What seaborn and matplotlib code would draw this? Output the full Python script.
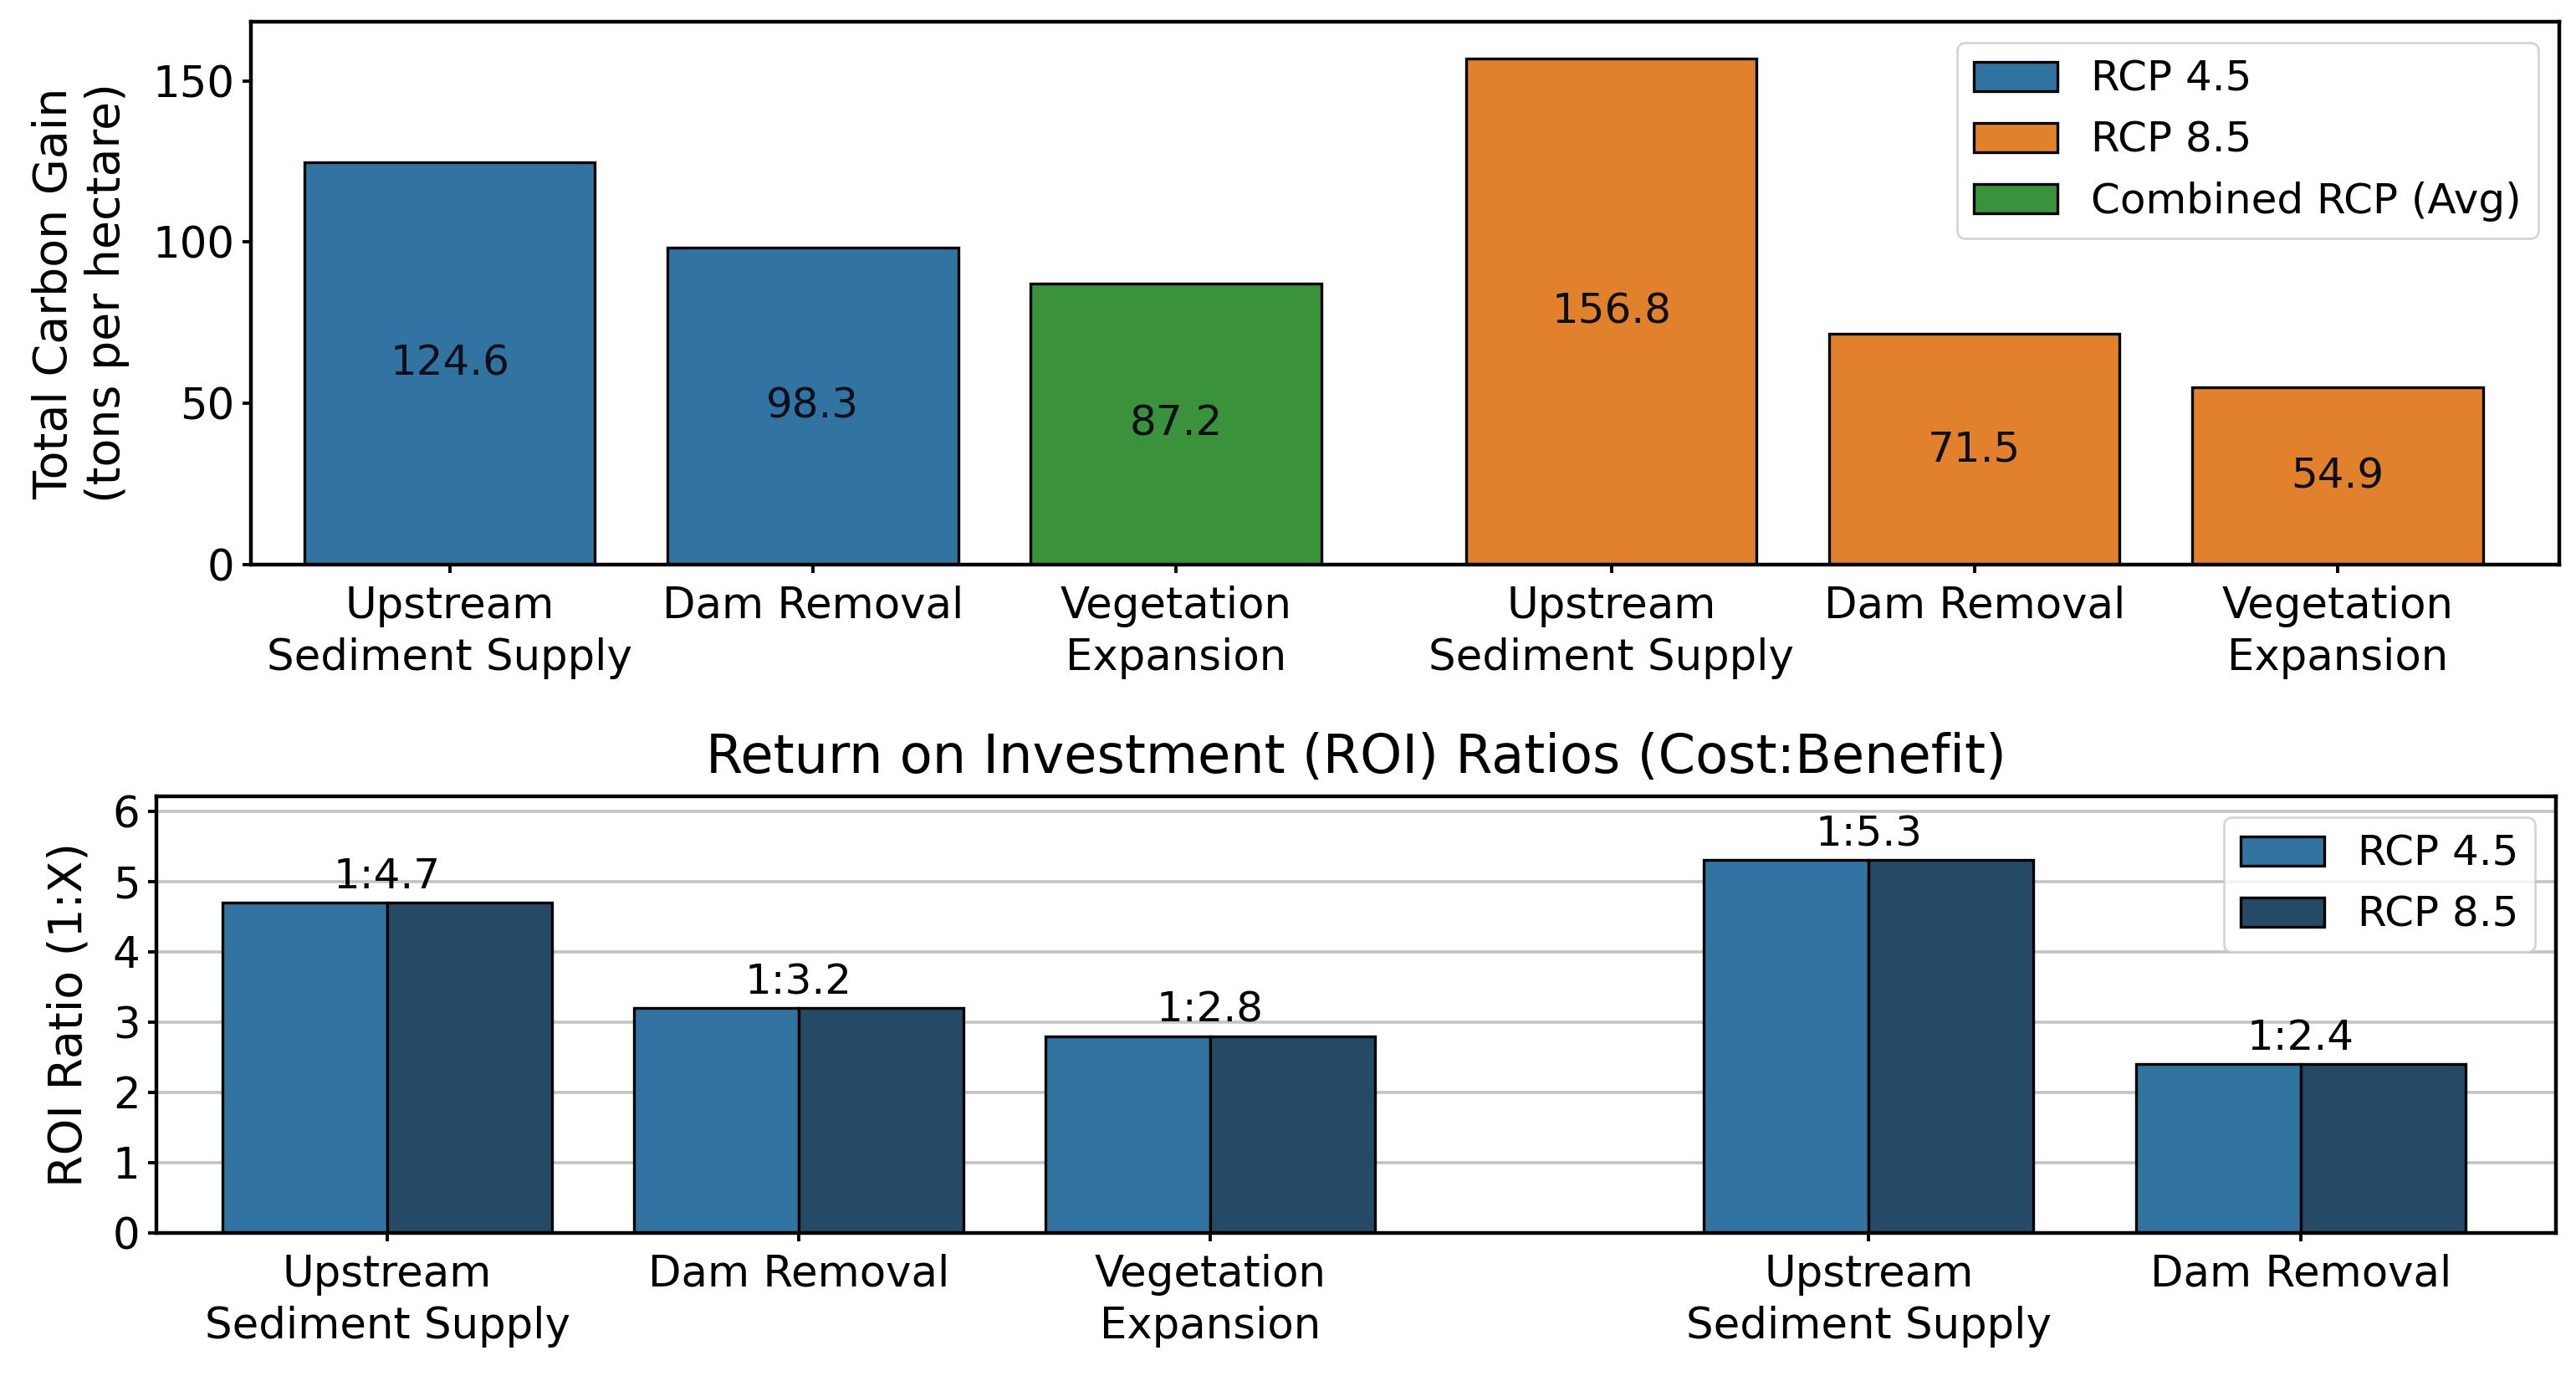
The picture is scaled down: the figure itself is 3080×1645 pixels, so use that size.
import pandas as pd
import matplotlib
matplotlib.use("Agg")
import matplotlib.pyplot as plt
import seaborn as sns

# Dados
estrategias = ["Upstream\nSediment Supply", "Dam Removal", "Vegetation\nExpansion"]

carbono_rotulos = estrategias + estrategias
carbono_ganho = [124.6, 98.3, 87.2, 156.8, 71.5, 54.9]
carbono_cenario = ["RCP 4.5", "RCP 4.5", "Combined RCP (Avg)", "RCP 8.5", "RCP 8.5", "RCP 8.5"]
carbono_pos = [0, 1, 2, 3.2, 4.2, 5.2]

roi_rotulos = estrategias + estrategias[:2]
roi_rcp45 = [4.7, 3.2, 2.8, 5.3, 2.4]
roi_rcp85 = [4.7, 3.2, 2.8, 5.3, 2.4]
roi_pos = [0, 1, 2, 3.6, 4.65]
roi_yticks = [0, 1, 2, 3, 4, 5, 6]

cenarios_carbono = ["RCP 4.5", "RCP 8.5", "Combined RCP (Avg)"]
cores_carbono = {"RCP 4.5": "tab:blue", "RCP 8.5": "tab:orange", "Combined RCP (Avg)": "tab:green"}
cores_roi = {"RCP 4.5": "#1f77b4", "RCP 8.5": "#1a4b71"}

df_carbono = pd.DataFrame({"pos": carbono_pos, "ganho": carbono_ganho, "cenario": carbono_cenario})
df_roi = pd.DataFrame({
    "pos": roi_pos + roi_pos,
    "ratio": roi_rcp45 + roi_rcp85,
    "cenario": ["RCP 4.5"] * len(roi_pos) + ["RCP 8.5"] * len(roi_pos),
})

fig = plt.figure(figsize=(15.4, 8.225), dpi=200)
ax1 = fig.add_axes([0.0974, 0.5897, 0.896, 0.3945])
ax2 = fig.add_axes([0.0607, 0.104, 0.9315, 0.3173])

# Grafico 1: ganho de carbono
sns.barplot(data=df_carbono, x="pos", y="ganho", hue="cenario", hue_order=cenarios_carbono,
            palette=cores_carbono, native_scale=True, dodge=False, errorbar=None,
            edgecolor="black", linewidth=1.2, ax=ax1)
for x, v in zip(carbono_pos, carbono_ganho):
    ax1.text(x, v / 2, f"{v:.1f}", ha="center", va="center", fontsize=18, color="#0a0f1a")
ax1.set_xlim(-0.548, 5.81)
ax1.set_ylim(0, 168.3)
ax1.set_xticks(carbono_pos, carbono_rotulos)
ax1.set_xlabel("")
ax1.set_ylabel("Total Carbon Gain\n(tons per hectare)", fontsize=20, labelpad=10)
sns.move_legend(ax1, "upper right", title=None, fontsize=18, frameon=True)

# Grafico 2: ROI
sns.barplot(data=df_roi, x="pos", y="ratio", hue="cenario", palette=cores_roi,
            native_scale=True, dodge=True, errorbar=None,
            edgecolor="black", linewidth=1.2, ax=ax2)
for x, v in zip(roi_pos, roi_rcp45):
    ax2.text(x, v + 0.08, f"1:{v}", ha="center", va="bottom", fontsize=18)
ax2.set_xlim(-0.561, 5.27)
ax2.set_ylim(0, 6.21)
ax2.set_yticks(roi_yticks)
ax2.set_xticks(roi_pos, roi_rotulos)
ax2.yaxis.grid(True, color="#c4c4c4", linewidth=1.3)
ax2.set_axisbelow(True)
ax2.set_xlabel("")
ax2.set_ylabel("ROI Ratio (1:X)", fontsize=20, labelpad=9)
ax2.set_title("Return on Investment (ROI) Ratios (Cost:Benefit)", fontsize=23, pad=10)
sns.move_legend(ax2, "upper right", title=None, fontsize=18, frameon=True)

for ax in (ax1, ax2):
    ax.tick_params(axis="both", labelsize=18.5, width=1.4)
    ax.tick_params(axis="x", pad=5.5)
    for t in ax.get_xticklabels():
        t.set_linespacing(1.3)
    for s in ax.spines.values():
        s.set_linewidth(1.6)

fig.savefig("out.png", dpi=200)
